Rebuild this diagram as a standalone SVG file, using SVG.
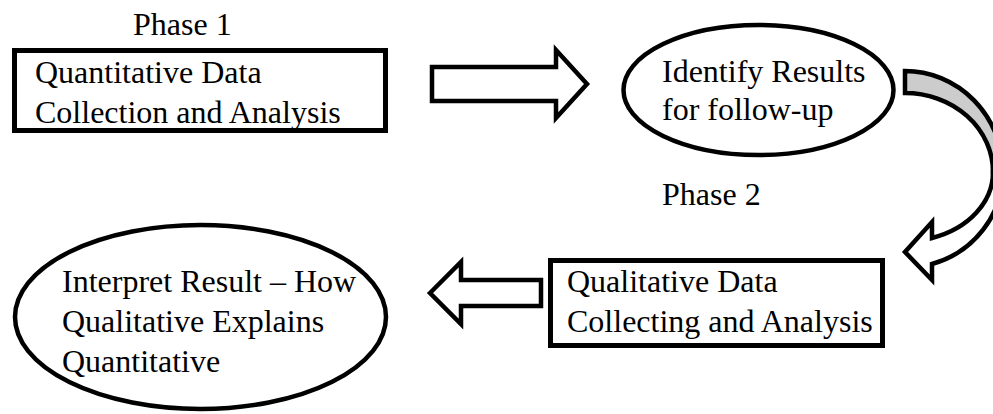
<svg xmlns="http://www.w3.org/2000/svg" width="993" height="414" viewBox="0 0 993 414">
<style>
text{font-family:"Liberation Serif","Times New Roman",serif;font-size:32px;fill:#000}
.box{fill:#fff;stroke:#000;stroke-width:5}
.ell{fill:#fff;stroke:#000;stroke-width:4.5}
.arr{fill:#fff;stroke:#000;stroke-width:4.5;stroke-linejoin:miter}
.back{fill:#cccccc;stroke:#000;stroke-width:4.5}
</style>
<rect width="993" height="414" fill="#fff"/>
<text x="133" y="35">Phase 1</text>
<text x="662" y="205">Phase 2</text>
<g id="quant">
<rect class="box" x="14.5" y="50.5" width="371" height="80"/>
<text x="35" y="83">Quantitative Data</text>
<text x="35" y="123">Collection and Analysis</text>
</g>
<g id="identify">
<ellipse class="ell" cx="758.5" cy="90" rx="135" ry="65"/>
<text x="662" y="82">Identify Results</text>
<text x="662" y="120">for follow-up</text>
</g>
<g id="qual">
<rect class="box" x="550.5" y="260.5" width="332" height="85"/>
<text x="567" y="292">Qualitative Data</text>
<text x="567" y="332">Collecting and Analysis</text>
</g>
<g id="interpret">
<ellipse class="ell" cx="200.5" cy="317" rx="185.5" ry="92"/>
<text x="62" y="292">Interpret Result – How</text>
<text x="62" y="332">Qualitative Explains</text>
<text x="62" y="372">Quantitative</text>
</g>
<g id="connectors">
<polygon class="arr" points="432,67 556,67 556,50 587,84 556,118 556,101 432,101"/>
<path class="back" d="M905,71 A98,101 0 0 1 1003,172 L993,172 A88,79 0 0 0 905,93 Z"/>
<path class="arr" d="M1003,172 A98,96 0 0 1 932,264 L932,280 L905,252 L932,222 L932,238 A88,69 0 0 0 993,172 Z"/>
<polygon class="arr" points="430,293 461,262 461,280 541,280 541,306 461,306 461,324"/>
</g>
</svg>
